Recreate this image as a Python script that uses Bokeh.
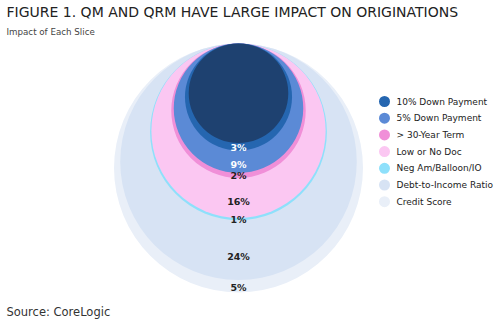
from bokeh.plotting import figure
from bokeh.models import Range1d
from bokeh.core.properties import value
from bokeh.embed import file_html
from bokeh.resources import INLINE

# ---- data ----
slices = ["Credit Score", "Debt-to-Income Ratio", "Neg Am/Balloon/IO", "Low or No Doc",
          "> 30-Year Term", "5% Down Payment", "10% Down Payment"]
impact = [5, 24, 1, 16, 2, 9, 3]          # percent of originations removed by each slice
colors = ["#e9eff8", "#d7e3f4", "#8ee0fb", "#fbc7f2", "#f08fd8", "#5b8ad6", "#2566b0"]
remaining_color = "#1e4170"
label_colors = ["#222222", "#222222", "#222222", "#222222", "#222222", "#ffffff", "#ffffff"]

legend_order = ["10% Down Payment", "5% Down Payment", "> 30-Year Term", "Low or No Doc",
                "Neg Am/Balloon/IO", "Debt-to-Income Ratio", "Credit Score"]

title = "FIGURE 1. QM AND QRM HAVE LARGE IMPACT ON ORIGINATIONS"
subtitle = "Impact of Each Slice"
source = "Source: CoreLogic"

# ---- layout ----
W, H = 500, 323
cx, top, rmax = 238, 43, 124.5

p = figure(width=W, height=H, output_backend="svg", toolbar_location=None,
           x_range=Range1d(0, W), y_range=Range1d(H, 0), min_border=0,
           outline_line_color=None)
p.axis.visible = False
p.grid.visible = False
p.background_fill_color = "white"

# cumulative remaining share
rem = [100]
for v in impact:
    rem.append(rem[-1] - v)
radii = [rmax * r / 100 for r in rem]   # radii[0] outermost ... radii[-1] remaining

xs, ys, rs, cs = [], [], [], []
for i, c in enumerate(colors + [remaining_color]):
    r = radii[i]
    xs.append(cx); ys.append(top + r); rs.append(r); cs.append(c)
p.circle(x=xs, y=ys, radius=rs, fill_color=cs, line_color=None)

# slice labels
lx, ly, lt = [], [], []
for i, v in enumerate(impact):
    bo, bi = top + 2 * radii[i], top + 2 * radii[i + 1]
    lx.append(cx); ly.append(bi + 0.6 * (bo - bi)); lt.append(f"{v}%")
p.text(x=lx, y=ly, text=lt, text_color=label_colors, text_align="center",
       text_baseline="middle", text_font=value("DejaVu Sans"), text_font_size="9.5px",
       text_font_style="bold")

# legend
col_map = dict(zip(slices, colors))
gy = [101 + 16.7 * k for k in range(len(legend_order))]
p.scatter(x=[384] * len(gy), y=gy, size=11, fill_color=[col_map[s] for s in legend_order],
          line_color=None)
p.text(x=[396] * len(gy), y=gy, text=legend_order, text_color="#222222",
       text_baseline="middle", text_font=value("DejaVu Sans"), text_font_size="9px")

# titles
p.text(x=[6], y=[11], text=[title], text_color="#222222", text_baseline="middle",
       text_font=value("DejaVu Sans"), text_font_size="14px")
p.text(x=[6], y=[31], text=[subtitle], text_color="#444444", text_baseline="middle",
       text_font=value("DejaVu Sans"), text_font_size="8.7px")
p.text(x=[6], y=[311], text=[source], text_color="#333333", text_baseline="middle",
       text_font=value("DejaVu Sans"), text_font_size="11.5px")

open("out.html", "w").write(file_html(p, INLINE))
